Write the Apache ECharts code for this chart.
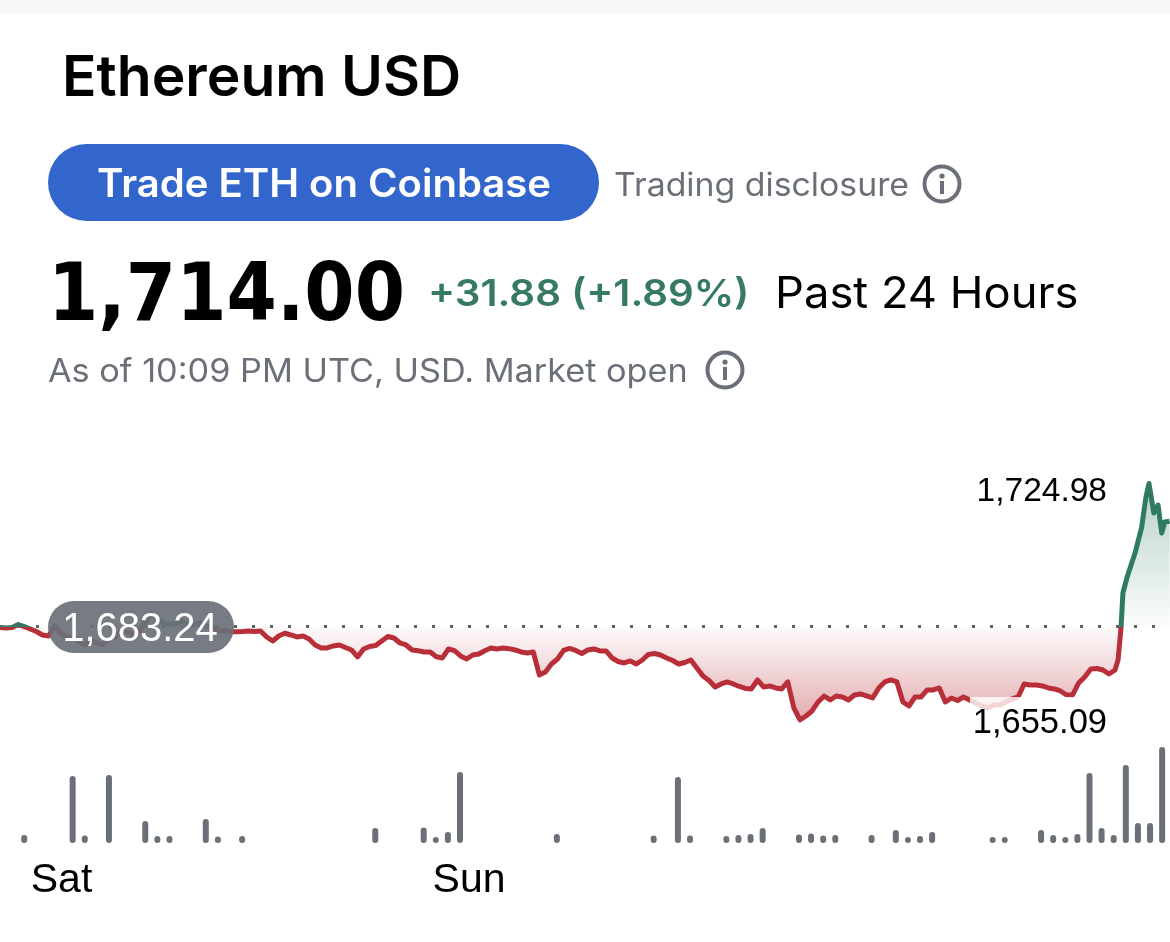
<!DOCTYPE html>
<html>
<head>
<meta charset="utf-8">
<style>html,body{margin:0;padding:0;background:#fff}#chart{width:1170px;height:942px}</style>
<script src="https://cdn.jsdelivr.net/npm/echarts@6/dist/echarts.min.js"></script>
</head>
<body>
<div id="chart"></div>
<script>
const previousClose = 1683.24;
const highLabel = '1,724.98';
const lowLabel = '1,655.09';
const closeLabel = '1,683.24';
const dayLabels = ['Sat', 'Sun'];
const dayLabelSteps = [10.16, 77.5];

// prices sampled on even steps 0,1,2...
const prices = [
1683.01,1682.86,1683.01,1683.88,1683.24,1682.57,1681.84,1680.82,1680.53,1683.44,
1681.40,1679.95,1680.24,1678.78,1677.91,1679.36,1678.49,1677.91,1679.51,1680.24,
1681.78,1681.55,1680.97,1681.99,1684.61,1687.09,1685.78,1684.32,1683.74,1684.03,
1684.90,1683.59,1683.74,1684.32,1683.44,1683.15,1681.99,1682.13,1681.78,1681.78,
1681.84,1681.99,1681.84,1681.99,1680.24,1679.07,1680.53,1681.32,1680.82,1680.24,
1680.53,1679.65,1677.91,1677.03,1677.03,1677.61,1677.91,1677.18,1676.45,1674.41,
1676.74,1677.47,1677.76,1679.07,1680.38,1679.95,1678.49,1677.91,1676.45,1676.24,
1675.87,1675.87,1674.49,1674.12,1676.74,1676.24,1674.70,1673.82,1674.99,1675.28,
1676.24,1677.03,1676.74,1677.03,1676.83,1676.45,1675.87,1675.57,1675.87,1669.16,
1670.03,1672.37,1673.82,1676.30,1676.89,1676.30,1675.43,1676.45,1676.74,1676.16,
1676.16,1674.12,1673.10,1672.66,1673.24,1672.37,1673.53,1675.14,1675.43,1674.99,
1674.12,1673.39,1672.37,1672.80,1673.53,1671.20,1668.87,1667.56,1665.66,1666.54,
1667.12,1666.54,1665.81,1665.23,1665.08,1667.70,1665.66,1665.95,1665.37,1665.08,
1667.12,1659.54,1656.04,1657.21,1658.67,1661.29,1663.04,1661.87,1663.04,1662.75,
1661.87,1663.33,1663.62,1663.04,1662.46,1665.37,1667.12,1667.70,1667.12,1661.29,
1660.12,1662.75,1662.75,1664.79,1664.79,1665.37,1661.29,1662.46,1661.73,1662.75,
1661.87,1661.00,1660.12,1659.54,1660.42,1660.42,1661.29,1662.17,1662.75,1666.54,
1666.24,1666.24,1665.95,1665.37,1665.08,1664.50,1663.33,1663.33,1666.83,1668.58,
1670.91,1671.06,1670.62,1669.45,1670.62
];
// final surge, sampled at its own steps
const surgeSteps = [184.5,185,185.3,186,187.3,188.4,189.1,189.6,190.4,191.1,191.7,192.2,193];
const surgePrices = [1673.53,1683.24,1693.06,1697.73,1704.72,1712.30,1721.05,1724.98,1716.38,1718.71,1710.55,1713.76,1714.00];

const volumeSteps = [4,12,14,18,24,26,28,34,36,40,62,70,72,74,76,92,108,112,114,120,122,124,126,132,134,136,138,144,148,150,152,154,164,166,172,174,176,178,180,182,184,186,188,190,192];
const volumes = [8,67,7.5,68,22,7,7,24,6.5,7,15,15.5,6,11,71,9,7.5,66,7.5,7,8,9,15,8.5,9.5,7.5,8,8,13,6,7,11,6,6,13,8,6,9,70,15,8,78,20,20,96];

const RED = '#b92f39', GREEN = '#2f7a62', GREY = '#6b7078';
const FONT = 'Inter, "Liberation Sans", sans-serif';
const HELV = '"Liberation Sans", sans-serif';
const DEJA = '"DejaVu Sans", sans-serif';

const priceData = prices.map((v, i) => [i, v]).concat(surgePrices.map((v, i) => [surgeSteps[i], v]));
const volumeData = volumes.map((v, i) => [volumeSteps[i], v]);

// price plot geometry
const pTop = 432, pH = 343, pMin = 1640, pMax = 1740;
const yOf = v => pTop + (pMax - v) / (pMax - pMin) * pH;
const gTop = yOf(1724.98), gBot = yOf(1656), split = (yOf(previousClose) - gTop) / (gBot - gTop);
const lineGrad = {type:'linear', global:true, x:0, y:gTop, x2:0, y2:gBot, colorStops:[
  {offset:0,color:GREEN},{offset:split,color:GREEN},{offset:split,color:RED},{offset:1,color:RED}]};
const areaGrad = {type:'linear', global:true, x:0, y:gTop, x2:0, y2:gBot, colorStops:[
  {offset:0,color:'rgba(47,122,98,0.34)'},{offset:split,color:'rgba(47,122,98,0.02)'},
  {offset:split,color:'rgba(185,47,57,0.02)'},{offset:1,color:'rgba(185,47,57,0.40)'}]};

function txt(text, x, y, size, weight, fill, family, align, sx, sy) {
  return {type:'text', z:100, x, y, scaleX:sx||1, scaleY:sy||1,
    style:{text, fontSize:size, fontWeight:weight, fill, fontFamily:family||FONT, align:align||'left', verticalAlign:'middle'}};
}
function info(cx, cy) {
  return [
    {type:'circle', z:100, shape:{cx, cy, r:17.5}, style:{fill:'none', stroke:GREY, lineWidth:4}},
    {type:'circle', z:100, shape:{cx, cy:cy-8, r:2.6}, style:{fill:GREY}},
    {type:'rect', z:100, shape:{x:cx-2, y:cy-3, width:4, height:13}, style:{fill:GREY}}
  ];
}

const graphic = [
  {type:'rect', z:100, shape:{x:0,y:0,width:1170,height:13}, style:{fill:'#f5f6f8'}},
  txt('Ethereum USD', 62, 79, 57, 600, '#000000'),
  {type:'rect', z:100, shape:{x:48,y:144,width:551,height:77,r:38.5}, style:{fill:'#3366cc'}},
  txt('Trade ETH on Coinbase', 97, 185, 39, 600, '#ffffff', FONT, 'left', 1.027, 1),
  txt('Trading disclosure', 614, 186, 32, 400, GREY, FONT, 'left', 1.057, 1),
  ...info(942,184),
  txt('1,714.00', 48, 299, 72, 700, '#000000', DEJA, 'left', 1.005, 1.11),
  txt('+31.88 (+1.89%)', 428, 295, 37, 600, '#367a66', FONT, 'left', 1.09, 1),
  txt('Past 24 Hours', 775, 295, 44, 400, '#000000', FONT, 'left', 1.03, 1),
  txt('As of 10:09 PM UTC, USD. Market open', 48, 372, 32, 400, GREY, FONT, 'left', 1.07, 1),
  ...info(725,370),
  txt(highLabel, 1107, 492, 33.5, 400, '#000000', HELV, 'right'),
  {type:'rect', z:100, shape:{x:970,y:697,width:140,height:42}, style:{fill:'rgba(255,255,255,0.8)'}},
  txt(lowLabel, 1107, 723, 34.5, 400, '#000000', HELV, 'right'),
  {type:'rect', z:100, shape:{x:48,y:601,width:186,height:52,r:26}, style:{fill:'rgba(107,112,120,0.92)'}},
  txt(closeLabel, 140, 630, 40, 400, '#ffffff', HELV, 'center')
];

const chart = echarts.init(document.getElementById('chart'), null, {renderer:'canvas'});
chart.setOption({
  animation:false,
  backgroundColor:'#ffffff',
  graphic,
  grid:[
    {left:0, right:0, top:pTop, height:pH},
    {left:0, right:0, top:743, height:100}
  ],
  xAxis:[
    {gridIndex:0, type:'value', min:0, max:193.07, show:false},
    {gridIndex:1, type:'value', min:0, max:193.3,
      axisLine:{show:false}, axisTick:{show:false}, splitLine:{show:false},
      axisLabel:{show:true, customValues:dayLabelSteps, margin:17, fontSize:41, color:'#000000', fontFamily:HELV,
        formatter:v => dayLabels[dayLabelSteps.indexOf(v)] }}
  ],
  yAxis:[
    {gridIndex:0, type:'value', min:pMin, max:pMax, show:false},
    {gridIndex:1, type:'value', min:0, max:100, show:false}
  ],
  series:[
    {type:'line', xAxisIndex:0, yAxisIndex:0, data:priceData, showSymbol:false, symbol:'none',
      lineStyle:{width:5, color:lineGrad, join:'round'},
      areaStyle:{origin:previousClose, color:areaGrad, opacity:1},
      markLine:{silent:true, symbol:'none', label:{show:false},
        lineStyle:{type:[3,15], width:3, color:'#5f6368', cap:'butt'},
        data:[{yAxis:previousClose}]}},
    {type:'bar', xAxisIndex:1, yAxisIndex:1, data:volumeData, barWidth:6, itemStyle:{color:GREY, borderRadius:3}}
  ]
});
</script>
</body>
</html>
